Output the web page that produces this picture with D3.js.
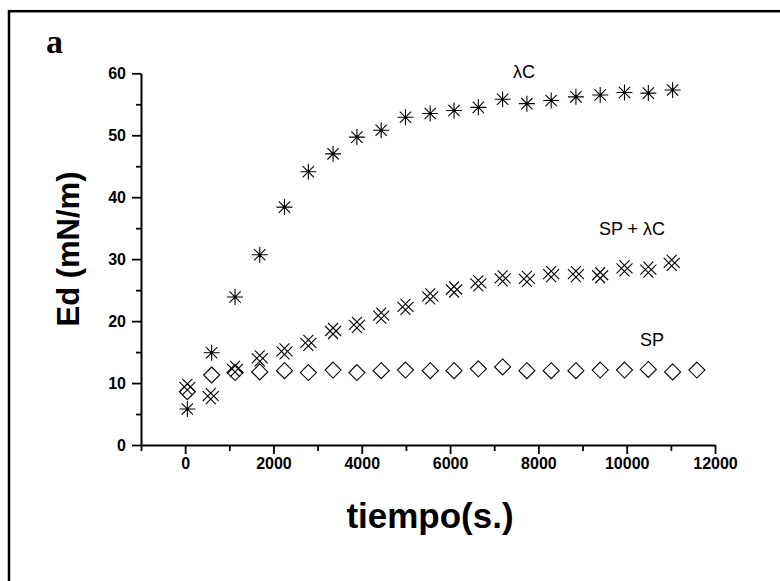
<!DOCTYPE html>
<html>
<head>
<meta charset="utf-8">
<script src="https://cdn.jsdelivr.net/npm/d3@7"></script>
<style>
  html, body { margin: 0; padding: 0; background: #fff; }
  svg { display: block; }
  .tick text { font-family: "Liberation Sans", Arial, sans-serif; font-weight: bold; }
</style>
</head>
<body>
<svg id="chart" width="780" height="581"></svg>
<script>
// Time (s) at which each measurement was taken
const timeSP  = [50, 600, 1130, 1690, 2250, 2790, 3350, 3890, 4440, 4990, 5550, 6090, 6640, 7190, 7740, 8290, 8850, 9400, 9950, 10490, 11040, 11590];
const timeLC  = [50, 600, 1130, 1690, 2250, 2790, 3350, 3890, 4440, 4990, 5550, 6090, 6640, 7190, 7740, 8290, 8850, 9400, 9950, 10490, 11040];
const timeMix = [50, 580, 1130, 1690, 2250, 2790, 3350, 3890, 4440, 4990, 5550, 6090, 6640, 7190, 7740, 8290, 8850, 9400, 9950, 10490, 11020];

// Dilatational elasticity Ed (mN/m)
const edLC  = [5.8, 14.9, 23.9, 30.7, 38.4, 44.1, 47.0, 49.7, 50.8, 52.9, 53.5, 54.0, 54.5, 55.8, 55.1, 55.6, 56.2, 56.5, 56.9, 56.8, 57.3];
const edMix = [9.4, 7.9, 12.3, 14.0, 15.1, 16.5, 18.4, 19.4, 20.9, 22.3, 24.0, 25.1, 26.1, 26.9, 26.8, 27.6, 27.6, 27.4, 28.5, 28.3, 29.4];
const edSP  = [8.6, 11.3, 11.7, 11.8, 12.0, 11.7, 12.1, 11.7, 12.0, 12.1, 12.0, 12.0, 12.3, 12.6, 12.0, 12.0, 12.0, 12.1, 12.1, 12.2, 11.8, 12.1];

// Axis ticks
const xMajor = [0, 2000, 4000, 6000, 8000, 10000, 12000];
const xMinor = [-1000, 1000, 3000, 5000, 7000, 9000, 11000];
const yMajor = [0, 10, 20, 30, 40, 50, 60];
const yMinor = [5, 15, 25, 35, 45, 55];

const svg = d3.select("#chart");

// Outer frame (runs past the right and bottom edges of the page)
svg.append("rect")
  .attr("x", 9).attr("y", 11.2)
  .attr("width", 800).attr("height", 620)
  .attr("fill", "none").attr("stroke", "#000").attr("stroke-width", 2.5);

// Panel letter
svg.append("text")
  .attr("x", 46).attr("y", 53)
  .attr("font-family", "'Liberation Serif', 'Times New Roman', serif")
  .attr("font-weight", "bold").attr("font-size", 34)
  .text("a");

const x = d3.scaleLinear().domain([-1000, 12000]).range([141, 715]);
const y = d3.scaleLinear().domain([0, 60]).range([445, 73.3]);

// X axis
const gx = svg.append("g").attr("transform", `translate(0,${y(0)})`);
gx.call(d3.axisBottom(x).tickValues(xMajor).tickSize(9).tickSizeOuter(0).tickPadding(4).tickFormat(d3.format("d")));
gx.append("g").call(d3.axisBottom(x).tickValues(xMinor).tickSize(6).tickSizeOuter(0).tickFormat(""))
  .select(".domain").remove();
gx.select(".domain").attr("stroke-width", 2);
gx.selectAll(".tick line").attr("stroke-width", 1.8);
gx.selectAll(".tick text").attr("font-size", 16).attr("fill", "#000");

// Y axis
const gy = svg.append("g").attr("transform", `translate(${x(-1000)},0)`);
gy.call(d3.axisLeft(y).tickValues(yMajor).tickSize(9).tickSizeOuter(0).tickPadding(6));
gy.append("g").call(d3.axisLeft(y).tickValues(yMinor).tickSize(5).tickSizeOuter(0).tickFormat(""))
  .select(".domain").remove();
gy.select(".domain").attr("stroke-width", 2);
gy.selectAll(".tick line").attr("stroke-width", 1.8);
gy.selectAll(".tick text").attr("font-size", 16).attr("fill", "#000");

// Axis titles
svg.append("text")
  .attr("x", 430).attr("y", 528)
  .attr("text-anchor", "middle")
  .attr("font-family", "'Liberation Sans', Arial, sans-serif")
  .attr("font-weight", "bold").attr("font-size", 35)
  .text("tiempo(s.)");

svg.append("text")
  .attr("transform", "translate(79,249) rotate(-90)")
  .attr("text-anchor", "middle")
  .attr("font-family", "'Liberation Sans', Arial, sans-serif")
  .attr("font-weight", "bold").attr("font-size", 31)
  .text("Ed (mN/m)");

// Marker shapes
const asterisk = (r => {
  const d = r * Math.SQRT1_2;
  return `M0,${-r}V${r}M${-r},0H${r}M${-d},${-d}L${d},${d}M${-d},${d}L${d},${-d}`;
})(8);
const hashX = "M-8,-5L5,8M-5,-8L8,5M-5,8L8,-5M-8,5L5,-8";
const diamond = "M0,-8L8,0L0,8L-8,0Z";

const plot = svg.append("g");

function series(times, values, shape, cls) {
  const g = plot.append("g").attr("class", cls);
  const pts = g.selectAll("g").data(values).join("g")
    .attr("transform", (d, i) => `translate(${x(times[i])},${y(d)})`);
  pts.append("path")
    .attr("d", shape)
    .attr("fill", "none").attr("stroke", "#000").attr("stroke-width", 1.1);
  return pts;
}

series(timeSP, edSP, diamond, "sp");
series(timeMix, edMix, hashX, "mix");
series(timeLC, edLC, asterisk, "lc")
  .append("circle").attr("r", 1.3).attr("fill", "#000");

// Series labels
const labelFont = "'Liberation Sans', Arial, sans-serif";
[["λC", 524, 78], ["SP + λC", 632, 235], ["SP", 652, 346]].forEach(([t, lx, ly]) => {
  svg.append("text")
    .attr("x", lx).attr("y", ly)
    .attr("text-anchor", "middle")
    .attr("font-family", labelFont).attr("font-size", 18)
    .text(t);
});
</script>
</body>
</html>
